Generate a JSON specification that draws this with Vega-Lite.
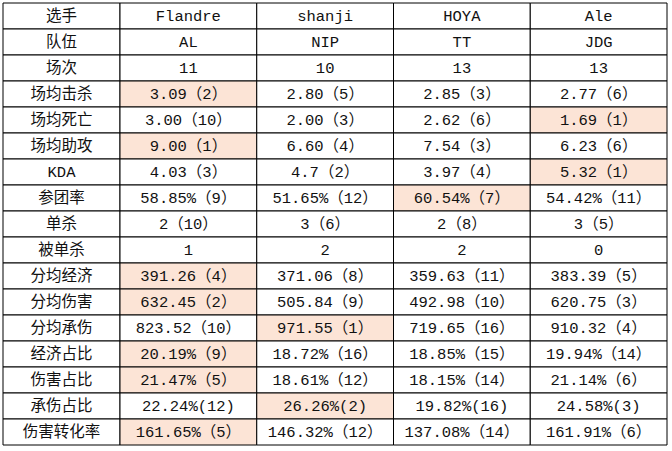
{
  "$schema": "https://vega.github.io/schema/vega-lite/v6.json",
  "width": 664,
  "height": 442,
  "autosize": "none",
  "padding": {"left": 3, "top": 3, "right": 5, "bottom": 6},
  "background": "white",
  "config": {"view": {"stroke": null}},
  "data": {"values": [
    {"row": "选手", "col": 0, "text": "选手", "top": false},
    {"row": "选手", "col": 1, "text": "Flandre", "top": false},
    {"row": "选手", "col": 2, "text": "shanji", "top": false},
    {"row": "选手", "col": 3, "text": "HOYA", "top": false},
    {"row": "选手", "col": 4, "text": "Ale", "top": false},
    {"row": "队伍", "col": 0, "text": "队伍", "top": false},
    {"row": "队伍", "col": 1, "text": "AL", "top": false},
    {"row": "队伍", "col": 2, "text": "NIP", "top": false},
    {"row": "队伍", "col": 3, "text": "TT", "top": false},
    {"row": "队伍", "col": 4, "text": "JDG", "top": false},
    {"row": "场次", "col": 0, "text": "场次", "top": false},
    {"row": "场次", "col": 1, "text": "11", "top": false},
    {"row": "场次", "col": 2, "text": "10", "top": false},
    {"row": "场次", "col": 3, "text": "13", "top": false},
    {"row": "场次", "col": 4, "text": "13", "top": false},
    {"row": "场均击杀", "col": 0, "text": "场均击杀", "top": false},
    {"row": "场均击杀", "col": 1, "text": "3.09（2）", "top": true},
    {"row": "场均击杀", "col": 2, "text": "2.80（5）", "top": false},
    {"row": "场均击杀", "col": 3, "text": "2.85（3）", "top": false},
    {"row": "场均击杀", "col": 4, "text": "2.77（6）", "top": false},
    {"row": "场均死亡", "col": 0, "text": "场均死亡", "top": false},
    {"row": "场均死亡", "col": 1, "text": "3.00（10）", "top": false},
    {"row": "场均死亡", "col": 2, "text": "2.00（3）", "top": false},
    {"row": "场均死亡", "col": 3, "text": "2.62（6）", "top": false},
    {"row": "场均死亡", "col": 4, "text": "1.69（1）", "top": true},
    {"row": "场均助攻", "col": 0, "text": "场均助攻", "top": false},
    {"row": "场均助攻", "col": 1, "text": "9.00（1）", "top": true},
    {"row": "场均助攻", "col": 2, "text": "6.60（4）", "top": false},
    {"row": "场均助攻", "col": 3, "text": "7.54（3）", "top": false},
    {"row": "场均助攻", "col": 4, "text": "6.23（6）", "top": false},
    {"row": "KDA", "col": 0, "text": "KDA", "top": false},
    {"row": "KDA", "col": 1, "text": "4.03（3）", "top": false},
    {"row": "KDA", "col": 2, "text": "4.7（2）", "top": false},
    {"row": "KDA", "col": 3, "text": "3.97（4）", "top": false},
    {"row": "KDA", "col": 4, "text": "5.32（1）", "top": true},
    {"row": "参团率", "col": 0, "text": "参团率", "top": false},
    {"row": "参团率", "col": 1, "text": "58.85%（9）", "top": false},
    {"row": "参团率", "col": 2, "text": "51.65%（12）", "top": false},
    {"row": "参团率", "col": 3, "text": "60.54%（7）", "top": true},
    {"row": "参团率", "col": 4, "text": "54.42%（11）", "top": false},
    {"row": "单杀", "col": 0, "text": "单杀", "top": false},
    {"row": "单杀", "col": 1, "text": "2（10）", "top": false},
    {"row": "单杀", "col": 2, "text": "3（6）", "top": false},
    {"row": "单杀", "col": 3, "text": "2（8）", "top": false},
    {"row": "单杀", "col": 4, "text": "3（5）", "top": false},
    {"row": "被单杀", "col": 0, "text": "被单杀", "top": false},
    {"row": "被单杀", "col": 1, "text": "1", "top": false},
    {"row": "被单杀", "col": 2, "text": "2", "top": false},
    {"row": "被单杀", "col": 3, "text": "2", "top": false},
    {"row": "被单杀", "col": 4, "text": "0", "top": false},
    {"row": "分均经济", "col": 0, "text": "分均经济", "top": false},
    {"row": "分均经济", "col": 1, "text": "391.26（4）", "top": true},
    {"row": "分均经济", "col": 2, "text": "371.06（8）", "top": false},
    {"row": "分均经济", "col": 3, "text": "359.63（11）", "top": false},
    {"row": "分均经济", "col": 4, "text": "383.39（5）", "top": false},
    {"row": "分均伤害", "col": 0, "text": "分均伤害", "top": false},
    {"row": "分均伤害", "col": 1, "text": "632.45（2）", "top": true},
    {"row": "分均伤害", "col": 2, "text": "505.84（9）", "top": false},
    {"row": "分均伤害", "col": 3, "text": "492.98（10）", "top": false},
    {"row": "分均伤害", "col": 4, "text": "620.75（3）", "top": false},
    {"row": "分均承伤", "col": 0, "text": "分均承伤", "top": false},
    {"row": "分均承伤", "col": 1, "text": "823.52（10）", "top": false},
    {"row": "分均承伤", "col": 2, "text": "971.55（1）", "top": true},
    {"row": "分均承伤", "col": 3, "text": "719.65（16）", "top": false},
    {"row": "分均承伤", "col": 4, "text": "910.32（4）", "top": false},
    {"row": "经济占比", "col": 0, "text": "经济占比", "top": false},
    {"row": "经济占比", "col": 1, "text": "20.19%（9）", "top": true},
    {"row": "经济占比", "col": 2, "text": "18.72%（16）", "top": false},
    {"row": "经济占比", "col": 3, "text": "18.85%（15）", "top": false},
    {"row": "经济占比", "col": 4, "text": "19.94%（14）", "top": false},
    {"row": "伤害占比", "col": 0, "text": "伤害占比", "top": false},
    {"row": "伤害占比", "col": 1, "text": "21.47%（5）", "top": true},
    {"row": "伤害占比", "col": 2, "text": "18.61%（12）", "top": false},
    {"row": "伤害占比", "col": 3, "text": "18.15%（14）", "top": false},
    {"row": "伤害占比", "col": 4, "text": "21.14%（6）", "top": false},
    {"row": "承伤占比", "col": 0, "text": "承伤占比", "top": false},
    {"row": "承伤占比", "col": 1, "text": "22.24%(12)", "top": false},
    {"row": "承伤占比", "col": 2, "text": "26.26%(2)", "top": true},
    {"row": "承伤占比", "col": 3, "text": "19.82%(16)", "top": false},
    {"row": "承伤占比", "col": 4, "text": "24.58%(3)", "top": false},
    {"row": "伤害转化率", "col": 0, "text": "伤害转化率", "top": false},
    {"row": "伤害转化率", "col": 1, "text": "161.65%（5）", "top": true},
    {"row": "伤害转化率", "col": 2, "text": "146.32%（12）", "top": false},
    {"row": "伤害转化率", "col": 3, "text": "137.08%（14）", "top": false},
    {"row": "伤害转化率", "col": 4, "text": "161.91%（6）", "top": false}
  ]},
  "transform": [
    {"calculate": "datum.col + 1", "as": "col2"},
    {"calculate": "datum.col + 0.5", "as": "cx"}
  ],
  "encoding": {
    "y": {"field": "row", "type": "nominal", "sort": null, "axis": null,
          "scale": {"paddingInner": 0, "paddingOuter": 0}}
  },
  "layer": [
    {
      "mark": {"type": "rect", "stroke": "#000000", "strokeWidth": 1},
      "encoding": {
        "x": {"field": "col", "type": "quantitative", "axis": null,
              "scale": {"domain": [0, 1, 5], "range": [0, 117, 664], "nice": false, "zero": false}},
        "x2": {"field": "col2"},
        "fill": {"condition": {"test": "datum.top", "value": "#FCE4D6"}, "value": "#FFFFFF"}
      }
    },
    {
      "mark": {"type": "text", "font": "Liberation Mono, Noto Sans CJK SC", "fontSize": 15.5, "color": "#111111", "align": "center", "baseline": "middle"},
      "encoding": {
        "x": {"field": "cx", "type": "quantitative", "axis": null},
        "text": {"field": "text"}
      }
    }
  ]
}
